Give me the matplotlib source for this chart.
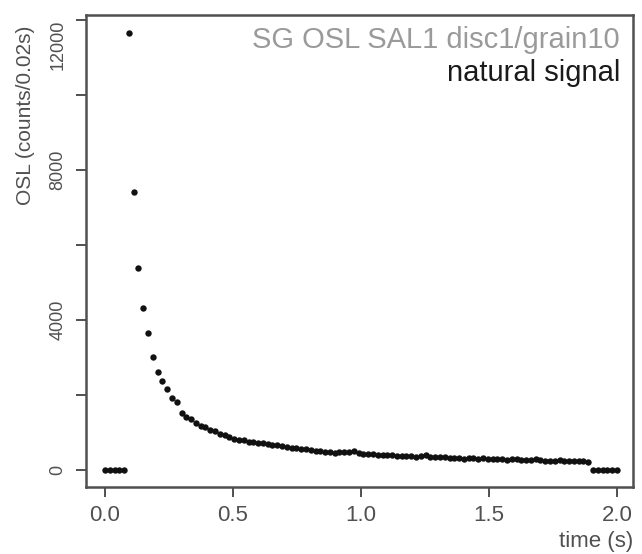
import numpy as np
import matplotlib.pyplot as plt

plt.rcParams['font.family'] = ['Liberation Sans', 'DejaVu Sans']

# channel times (s) and OSL counts per channel
time = np.linspace(0.0, 2.0, 108)
counts = [0, 0, 0, 0, 0,
          11660, 7420, 5380, 4310, 3650, 3020, 2620, 2380, 2160, 1930,
          1820, 1510, 1420, 1350, 1250, 1180, 1140, 1080, 1030, 960,
          930, 880, 840, 800, 790, 760, 740, 730, 720, 690,
          680, 670, 650, 620, 600, 580, 560, 550, 540, 520,
          500, 490, 470, 460, 470, 480, 470, 500, 460, 440,
          430, 420, 410, 400, 400, 390, 380, 370, 380, 370,
          360, 380, 400, 350, 340, 350, 340, 330, 320, 310,
          300, 310, 320, 300, 310, 300, 290, 300, 290, 280,
          290, 300, 280, 270, 260, 290, 270, 240, 230, 250,
          260, 250, 240, 250, 240, 230, 210,
          0, 0, 0, 0, 0, 0]

x_ticks = [0.0, 0.5, 1.0, 1.5, 2.0]
x_labels = ['0.0', '0.5', '1.0', '1.5', '2.0']
y_ticks = [0, 2000, 4000, 6000, 8000, 10000, 12000]
y_labels = ['0', '', '4000', '', '8000', '', '12000']

title1 = 'SG OSL SAL1 disc1/grain10'
title2 = 'natural signal'

grey = '#505050'

fig = plt.figure(figsize=(6.42, 5.54), dpi=100)
ax = fig.add_axes([86/642, 1-487/554, (633-86)/642, (487-15)/554])

ax.plot(time, counts, 'o', color='#111111', markersize=4.6, markeredgewidth=0)

ax.set_xlim(-0.074, 2.0625)
ax.set_ylim(-453, 12133)

ax.set_xticks(x_ticks)
ax.set_xticklabels(x_labels)
ax.set_yticks(y_ticks)
ax.set_yticklabels(y_labels, rotation=90, va='center')
ax.get_yticklabels()[-1].set_va('top')

ax.tick_params(axis='x', length=7, width=1.4, color=grey, pad=6,
               labelsize=16, labelcolor=grey)
ax.tick_params(axis='y', length=7, width=1.4, color=grey, pad=7,
               labelsize=13, labelcolor=grey)

for s in ax.spines.values():
    s.set_color(grey)
    s.set_linewidth(1.8)

fig.text(620/642, 1-40/554, title1, ha='right', va='center',
         fontsize=21, color='#9a9a9a')
fig.text(620/642, 1-73/554, title2, ha='right', va='center',
         fontsize=21, color='#1a1a1a')

fig.text(26/642, 1-115/554, 'OSL (counts/0.02s)', rotation=90,
         ha='center', va='center', fontsize=15, color=grey)
fig.text(633/642, 1-541/554, 'time (s)', ha='right', va='center',
         fontsize=16, color=grey)

fig.savefig('out.png', dpi=100)
